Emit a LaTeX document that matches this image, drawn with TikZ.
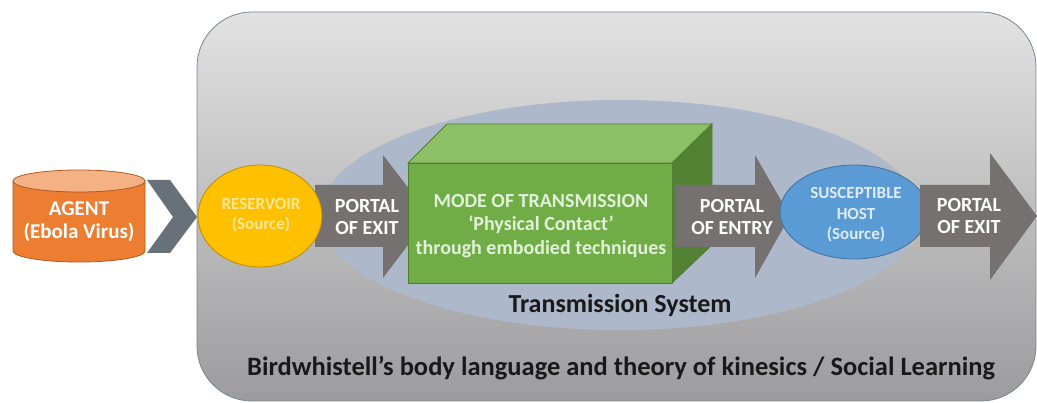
\documentclass[tikz,border=0pt]{standalone}
\usepackage{fontspec}
\setmainfont{Carlito}
\definecolor{framegray}{RGB}{122,132,146}
\definecolor{systemblue}{RGB}{173,185,202}
\definecolor{chevgray}{RGB}{104,112,122}
\definecolor{portalgray}{RGB}{118,113,113}
\definecolor{agentorange}{RGB}{237,125,49}
\definecolor{agenttop}{RGB}{244,177,131}
\definecolor{agentline}{RGB}{174,90,33}
\definecolor{resyellow}{RGB}{255,192,0}
\definecolor{resline}{RGB}{188,140,0}
\definecolor{restext}{RGB}{255,230,153}
\definecolor{modegreen}{RGB}{112,173,71}
\definecolor{modetop}{RGB}{141,191,103}
\definecolor{modeside}{RGB}{84,130,53}
\definecolor{modeline}{RGB}{80,126,50}
\definecolor{modetext}{RGB}{226,240,217}
\definecolor{hostblue}{RGB}{91,155,213}
\definecolor{hostline}{RGB}{65,113,156}
\definecolor{hosttext}{RGB}{222,235,247}
\tikzset{
  portal/.style={fill=portalgray},
  label/.style={font=\bfseries\fontsize{20}{22}\selectfont, align=center, text=white},
  small label/.style={font=\bfseries\fontsize{17}{20.5}\selectfont, align=center},
  caption/.style={font=\bfseries\fontsize{26.5}{30}\selectfont, text=black!90}
}
\begin{document}
\begin{tikzpicture}[x=1pt,y=-1pt]
  \useasboundingbox (0,0) rectangle (1037,403);

  % frame and transmission system
  \draw [framegray, line width=0.8pt, rounded corners=55pt, top color={rgb,255:red,226;green,226;blue,226}, bottom color={rgb,255:red,156;green,156;blue,158}] (197,12) rectangle (1036,401);
  \fill [systemblue] (620,215) ellipse [x radius=300, y radius=115];

  % agent and chevron
  \fill [chevgray] (147,180) -- (170,180) -- (197,217) -- (170,253) -- (147,253) -- (173,217) -- cycle;
  \filldraw [fill=agentorange, draw=agentline, line width=0.8pt] (13,181) -- (13,251) arc [start angle=180, end angle=0, x radius=66, y radius=11] -- (145,181) -- cycle;
  \filldraw [fill=agenttop, draw=agentline, line width=0.8pt] (79,181) ellipse [x radius=66, y radius=11];
  \node [label, font=\bfseries\fontsize{21}{23}\selectfont] (agent) at (79,222) {AGENT\\(Ebola Virus)};

  % portals
  \fill [portal] (315,185) -- (383,185) -- (383,155) -- (430,216) -- (383,278) -- (383,247) -- (315,247) -- cycle;
  \filldraw [fill=resyellow, draw=resline, line width=0.8pt] (260,216) ellipse [x radius=62, y radius=51];
  \node [small label, text=restext] (reservoir) at (261,215) {RESERVOIR\\(Source)};
  \node [label] (exitA) at (367,217) {PORTAL\\OF EXIT};

  % mode of transmission box
  \filldraw [fill=modetop, draw=modeline, line width=0.8pt] (408,163) -- (447,124) -- (712,124) -- (672,163) -- cycle;
  \filldraw [fill=modeside, draw=modeline, line width=0.8pt] (672,163) -- (712,124) -- (712,245) -- (672,283) -- cycle;
  \filldraw [fill=modegreen, draw=modeline, line width=0.8pt] (408,163) rectangle (672,283);
  \node [label, text=modetext, font=\bfseries\fontsize{20}{23.5}\selectfont] (mode) at (541,226) {MODE OF TRANSMISSION\\`Physical Contact'\\through embodied techniques};

  \fill [portal] (675,185) -- (755,185) -- (755,155) -- (790,216) -- (755,278) -- (755,247) -- (675,247) -- cycle;
  \node [label] (entry) at (732,217) {PORTAL\\OF ENTRY};
  \filldraw [fill=hostblue, draw=hostline, line width=0.8pt] (854,212) ellipse [x radius=74, y radius=47];
  \node [small label, text=hosttext] (host) at (856,215) {SUSCEPTIBLE\\HOST\\(Source)};
  \fill [portal] (920,185) -- (990,185) -- (990,153) -- (1037,216) -- (990,280) -- (990,247) -- (920,247) -- cycle;
  \node [label] (exitB) at (969,216) {PORTAL\\OF EXIT};

  % captions
  \node [caption, font=\bfseries\fontsize{26}{30}\selectfont] (system) at (620,305) {Transmission System};
  \node [caption] (kinesics) at (621,368) {Birdwhistell’s body language and theory of kinesics / Social Learning};

\end{tikzpicture}
\end{document}
